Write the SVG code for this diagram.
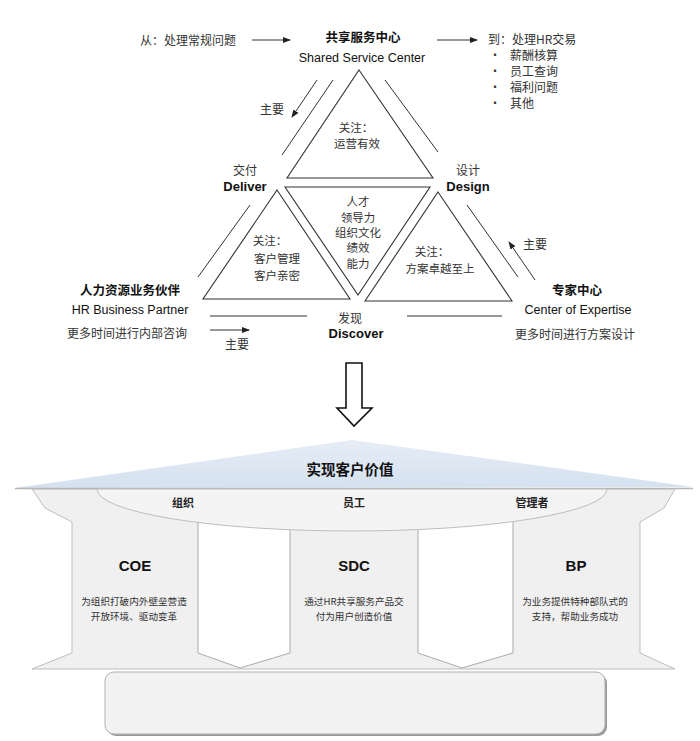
<svg xmlns="http://www.w3.org/2000/svg" width="700" height="741" viewBox="0 0 700 741">
<style>
.c{font-family:"Noto Sans CJK SC","Liberation Sans",sans-serif;font-size:12px;fill:#333}
.s{font-size:11.5px}
.b{font-family:"Noto Sans CJK SC","Liberation Sans",sans-serif;font-weight:bold;fill:#111}
.e{font-family:"Liberation Sans","Noto Sans",sans-serif;font-size:12.5px;fill:#111}
.eb{font-family:"Liberation Sans","Noto Sans",sans-serif;font-size:13px;font-weight:bold;fill:#111}
.m{text-anchor:middle}
.ln{stroke:#333;stroke-width:1;fill:none}
.tri{stroke:#333;stroke-width:1.1;fill:#fff}
.d{font-family:"Noto Sans CJK SC","Liberation Sans",sans-serif;font-size:9.6px;fill:#333;text-anchor:middle}
.h{font-family:"Liberation Sans","Noto Sans",sans-serif;font-size:15px;font-weight:bold;fill:#111;text-anchor:middle}
.lb{font-family:"Noto Sans CJK SC","Liberation Sans",sans-serif;font-size:11px;font-weight:bold;fill:#222;text-anchor:middle}
</style>
<defs>
<marker id="ah" markerWidth="8" markerHeight="6" refX="7" refY="3" orient="auto" markerUnits="userSpaceOnUse">
<path d="M0,0 L8,3 L0,6 Z" fill="#222"/>
</marker>
<linearGradient id="roof" x1="0" y1="0" x2="0" y2="1">
<stop offset="0" stop-color="#e6edf6"/>
<stop offset="1" stop-color="#d5e1ef"/>
</linearGradient>
</defs>
<rect width="700" height="741" fill="#fff"/>

<g id="connectors">
<line class="ln" x1="252" y1="40" x2="290" y2="40" marker-end="url(#ah)"/>
<line class="ln" x1="437" y1="40" x2="477" y2="40" marker-end="url(#ah)"/>
<line class="ln" x1="317" y1="80" x2="292" y2="117" marker-end="url(#ah)"/>
<line class="ln" x1="535" y1="280" x2="509" y2="242" marker-end="url(#ah)"/>
<line class="ln" x1="210" y1="330" x2="249" y2="330" marker-end="url(#ah)"/>
<line class="ln" x1="333" y1="80" x2="282" y2="155"/>
<line class="ln" x1="385" y1="80" x2="438" y2="152"/>
<line class="ln" x1="250" y1="205" x2="198" y2="277"/>
<line class="ln" x1="467" y1="205" x2="518" y2="277"/>
<line class="ln" x1="210" y1="316" x2="307" y2="316"/>
<line class="ln" x1="407" y1="316" x2="502" y2="316"/>
<path d="M346,363 H362 V408 H372 L354,426 L337,408 H346 Z" fill="#fff" stroke="#111" stroke-width="1.6"/>
</g>

<g id="from">
<text class="c" x="140" y="45">从：处理常规问题</text>
</g>
<g id="ssc">
<text class="b m" x="363" y="42" font-size="12.5">共享服务中心</text>
<text class="e m" x="362" y="62">Shared Service Center</text>
</g>
<g id="to">
<text class="c" x="488" y="44">到：处理HR交易</text>
<text class="c" x="489" y="60">•</text>
<text class="c" x="510" y="60">薪酬核算</text>
<text class="c" x="489" y="76">•</text>
<text class="c" x="510" y="76">员工查询</text>
<text class="c" x="489" y="92">•</text>
<text class="c" x="510" y="92">福利问题</text>
<text class="c" x="489" y="108">•</text>
<text class="c" x="510" y="108">其他</text>
</g>
<g id="labels-main">
<text class="c" x="260" y="114">主要</text>
<text class="c" x="523" y="249">主要</text>
<text class="c" x="225" y="349">主要</text>
</g>

<g id="tri-top">
<polygon class="tri" points="359,70 433,178 287,178"/>
<text class="c s m"><tspan x="356" y="132">关注：</tspan><tspan x="357" y="148">运营有效</tspan></text>
</g>
<g id="tri-center">
<polygon class="tri" points="285,187 430,187 358,295"/>
<text class="c s m"><tspan x="358" y="206">人才</tspan><tspan x="358" y="222">领导力</tspan><tspan x="358" y="237">组织文化</tspan><tspan x="358" y="252">绩效</tspan><tspan x="358" y="268">能力</tspan></text>
</g>
<g id="tri-left">
<polygon class="tri" points="277,190 350,299 203,299"/>
<text class="c s m"><tspan x="270" y="245">关注：</tspan><tspan x="277" y="263">客户管理</tspan><tspan x="277" y="280">客户亲密</tspan></text>
</g>
<g id="tri-right">
<polygon class="tri" points="438,192 512,301 365,301"/>
<text class="c s m"><tspan x="432" y="256">关注：</tspan><tspan x="440" y="273">方案卓越至上</tspan></text>
</g>
<g id="deliver">
<text class="c m" x="245" y="175">交付</text>
<text class="eb m" x="245" y="191">Deliver</text>
</g>
<g id="design">
<text class="c m" x="468" y="175">设计</text>
<text class="eb m" x="468" y="191">Design</text>
</g>
<g id="discover">
<text class="c m" x="350" y="323">发现</text>
<text class="eb m" x="356" y="338">Discover</text>
</g>
<g id="hrbp">
<text class="b m" x="130" y="295" font-size="12.5">人力资源业务伙伴</text>
<text class="e m" x="130" y="314">HR Business Partner</text>
<text class="c m" x="127" y="338">更多时间进行内部咨询</text>
</g>
<g id="coe-top">
<text class="b m" x="577" y="295" font-size="12.5">专家中心</text>
<text class="e m" x="578" y="314">Center of Expertise</text>
<text class="c m" x="575" y="339">更多时间进行方案设计</text>
</g>

<g id="temple">
<polygon points="15,488 352,440 693,487" fill="url(#roof)"/>
<rect x="107" y="674" width="500" height="62" rx="9" fill="#9a9a9a"/>
<rect x="105" y="672" width="500" height="62" rx="9" fill="#f2f2f2" stroke="#b0b0b0"/>
<path d="M32,489 L45,508 L72,522 L72,653 L32,669 L675,669 L640,653 L640,522 L664,508 L675,489 Z" fill="#f0f0f0" stroke="#bdbdbd"/>
<line x1="15" y1="488.5" x2="693" y2="488.5" stroke="#b8b8b8" stroke-width="1.5"/>
<polygon points="198,515 290,515 290,653 240,668 198,653" fill="#fff" stroke="#aaa"/>
<polygon points="418,515 513,515 513,653 462,668 418,653" fill="#fff" stroke="#aaa"/>
<path d="M97,489 A255,42 0 0 0 607,489 Z" fill="#f4f4f4" stroke="#bdbdbd"/>
<text class="b m" x="350" y="475" font-size="14.5" fill="#444">实现客户价值</text>
<text class="lb" x="183" y="507">组织</text>
<text class="lb" x="354" y="507">员工</text>
<text class="lb" x="532" y="507">管理者</text>
</g>
<g id="col-coe">
<text class="h" x="135" y="571">COE</text>
<text class="d"><tspan x="134" y="605">为组织打破内外壁垒营造</tspan><tspan x="134" y="619.5">开放环境、驱动变革</tspan></text>
</g>
<g id="col-sdc">
<text class="h" x="354" y="571">SDC</text>
<text class="d"><tspan x="354" y="605">通过HR共享服务产品交</tspan><tspan x="354" y="619.5">付为用户创造价值</tspan></text>
</g>
<g id="col-bp">
<text class="h" x="576" y="571">BP</text>
<text class="d"><tspan x="575" y="605">为业务提供特种部队式的</tspan><tspan x="575" y="619.5">支持，帮助业务成功</tspan></text>
</g>
</svg>
